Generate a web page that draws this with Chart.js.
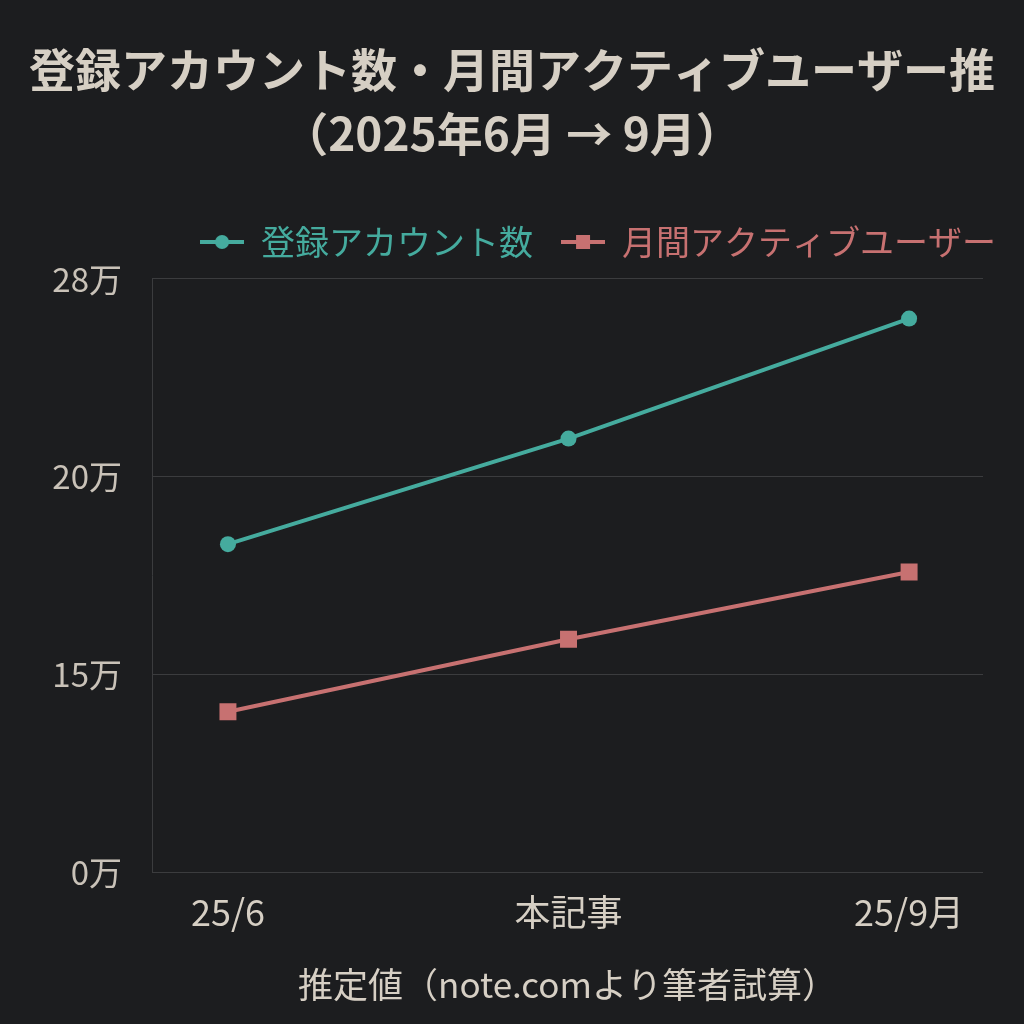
<!DOCTYPE html>
<html>
<head>
<meta charset="utf-8">
<script src="https://cdn.jsdelivr.net/npm/chart.js@4/dist/chart.umd.min.js"></script>
<style>
  html, body { margin: 0; padding: 0; background: #1c1d1f; }
  #wrap { width: 1024px; height: 1024px; }
</style>
</head>
<body>
<div id="wrap"><canvas id="graph"></canvas></div>
<script>
// categories (x) and series values (in people)
const periods = ["25/6", "本記事", "25/9月"];
const registeredAccounts = [183000, 215500, 264000];
const monthlyActiveUsers = [122000, 159000, 176000];

// the y axis in the picture is not linear: equal gaps between these ticks
const yTickValues = [0, 150000, 200000, 280000];
const yTickLabels = ["0万", "15万", "20万", "28万"];

const FONT = "'Noto Sans CJK JP', 'Noto Sans', sans-serif";
const TEXT = "#d6cfc4";
const GREEN = "#45ab9e";
const RED = "#c77171";

// place a value on the piecewise tick scale
function toTickPos(v) {
  for (let i = 0; i < yTickValues.length - 1; i++) {
    if (v <= yTickValues[i + 1]) {
      return i + (v - yTickValues[i]) / (yTickValues[i + 1] - yTickValues[i]);
    }
  }
  return yTickValues.length - 1;
}

function toPoints(values) {
  return values.map((v, i) => ({ x: i, y: toTickPos(v), raw: v }));
}

// small legend marker: line with a point in the middle
function legendMarker(color, square) {
  const c = document.createElement("canvas");
  c.width = 44; c.height = 16;
  const g = c.getContext("2d");
  g.strokeStyle = color; g.fillStyle = color; g.lineWidth = 4;
  g.beginPath(); g.moveTo(0, 8); g.lineTo(44, 8); g.stroke();
  if (square) {
    g.fillRect(15, 1, 14, 14);
  } else {
    g.beginPath(); g.arc(22, 8, 7, 0, Math.PI * 2); g.fill();
  }
  return c;
}
const markers = [legendMarker(GREEN, false), legendMarker(RED, true)];

const bgPlugin = {
  id: "bg",
  beforeDraw(chart) {
    const ctx = chart.ctx;
    ctx.save();
    ctx.fillStyle = "#1c1d1f";
    ctx.fillRect(0, 0, chart.width, chart.height);
    ctx.restore();
  }
};

// a bit more room under the legend
const legendGap = {
  id: "legendGap",
  afterInit(chart) {
    const fit = chart.legend.fit;
    chart.legend.fit = function () {
      fit.call(this);
      this.height += 10;
    };
  }
};

let graph = document.getElementById("graph").getContext("2d");
let usersChart = new Chart(graph, {
  type: "line",
  data: {
    datasets: [
      {
        label: "登録アカウント数",
        data: toPoints(registeredAccounts),
        borderColor: GREEN,
        backgroundColor: GREEN,
        borderWidth: 4,
        pointStyle: "circle",
        pointRadius: 8,
        pointBorderWidth: 0,
      },
      {
        label: "月間アクティブユーザー",
        data: toPoints(monthlyActiveUsers),
        borderColor: RED,
        backgroundColor: RED,
        borderWidth: 4,
        pointStyle: "rect",
        pointRadius: 12,
        pointBorderWidth: 0,
      },
    ],
  },
  options: {
    responsive: true,
    maintainAspectRatio: false,
    animation: false,
    layout: { padding: { left: 0, right: 0, top: 0, bottom: 18 } },
    plugins: {
      title: {
        display: true,
        text: ["登録アカウント数・月間アクティブユーザー推", "（2025年6月 → 9月）"],
        color: TEXT,
        font: { family: FONT, size: 46, weight: "bold", lineHeight: 1.38 },
        padding: { top: 38, bottom: 32 },
      },
      legend: {
        display: true,
        align: "end",
        labels: {
          font: { family: FONT, size: 34 },
          usePointStyle: true,
          pointStyleWidth: 44,
          padding: 28,
          generateLabels(chart) {
            const items = Chart.defaults.plugins.legend.labels.generateLabels(chart);
            items.forEach((it, i) => {
              it.pointStyle = markers[i];
              it.fontColor = chart.data.datasets[i].borderColor;
            });
            return items;
          },
        },
      },
      tooltip: { enabled: false },
    },
    scales: {
      x: {
        type: "linear",
        min: -0.223,
        max: 2.217,
        afterBuildTicks(scale) {
          scale.ticks = periods.map((p, i) => ({ value: i }));
        },
        ticks: {
          color: TEXT,
          font: { family: FONT, size: 36 },
          padding: 10,
          callback: (v) => periods[v],
        },
        grid: { display: false },
        border: { display: false },
        title: {
          display: true,
          text: "推定値（note.comより筆者試算）",
          color: TEXT,
          font: { family: FONT, size: 35 },
          padding: { top: 20, bottom: 0 },
        },
      },
      y: {
        type: "linear",
        min: 0,
        max: yTickValues.length - 1,
        afterBuildTicks(scale) {
          scale.ticks = yTickValues.map((v, i) => ({ value: i }));
        },
        afterFit(scale) {
          scale.width = 152;
        },
        ticks: {
          color: "#c9c2b8",
          font: { family: FONT, size: 33 },
          padding: 30,
          callback: (v) => yTickLabels[v],
        },
        grid: { color: "#3b3c3e", lineWidth: 1, drawTicks: false },
        border: { display: true, color: "#3b3c3e", width: 1 },
      },
      // empty axis that only reserves the right margin
      yRight: {
        type: "linear",
        position: "right",
        display: true,
        afterFit(scale) {
          scale.width = 41;
        },
        ticks: { display: false },
        grid: { display: false },
        border: { display: false },
      },
    },
  },
  plugins: [bgPlugin, legendGap],
});
</script>
</body>
</html>
